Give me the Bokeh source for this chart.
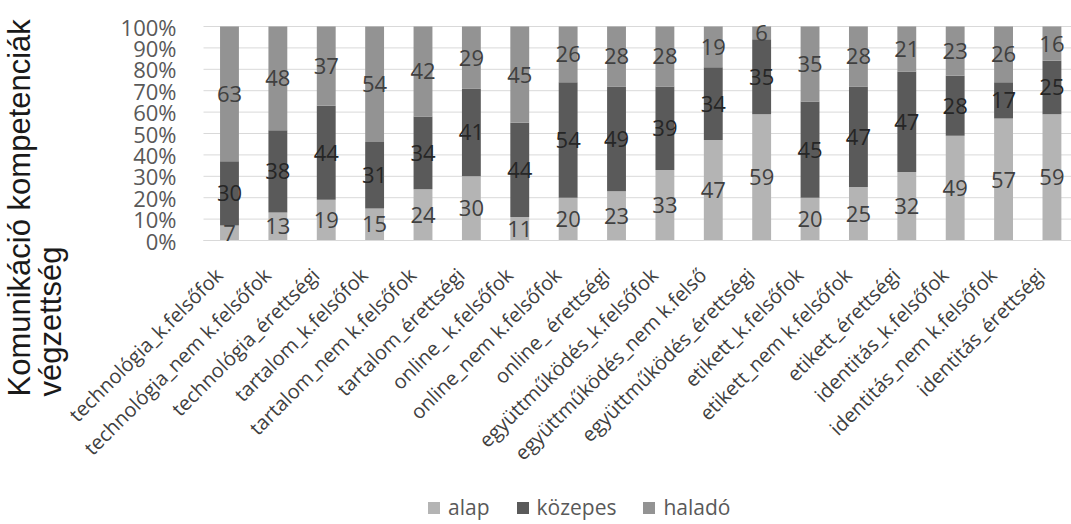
import numpy as np
from bokeh.plotting import figure
from bokeh.models import (ColumnDataSource, Range1d, FixedTicker, Label, Legend,
                          LegendItem, LabelSet)
from bokeh.embed import file_html
from bokeh.resources import INLINE
from bokeh.core.properties import value

categories = [
    "technológia_k.felsőfok", "technológia_nem k.felsőfok", "technológia_érettségi",
    "tartalom_k.felsőfok", "tartalom_nem k.felsőfok", "tartalom_érettségi",
    "online_ k.felsőfok", "online_nem k.felsőfok", "online_ érettségi",
    "együttműködés_k.felsőfok", "együttműködés_nem k.felső", "együttműködés_érettségi",
    "etikett_k.felsőfok", "etikett_nem k.felsőfok", "etikett_érettségi",
    "identitás_k.felsőfok", "identitás_nem k.felsőfok", "identitás_érettségi",
]
alap = [7, 13, 19, 15, 24, 30, 11, 20, 23, 33, 47, 59, 20, 25, 32, 49, 57, 59]
kozepes = [30, 38, 44, 31, 34, 41, 44, 54, 49, 39, 34, 35, 45, 47, 47, 28, 17, 25]
halado = [63, 48, 37, 54, 42, 29, 45, 26, 28, 28, 19, 6, 35, 28, 21, 23, 26, 16]
series_names = ["alap", "közepes", "haladó"]
series_colors = ["#b4b4b4", "#5a5a5a", "#939393"]
label_colors = ["#404040", "#262626", "#404040"]
y_ticks = [0, 10, 20, 30, 40, 50, 60, 70, 80, 90, 100]
y_tick_labels = ["0%", "10%", "20%", "30%", "40%", "50%", "60%", "70%", "80%", "90%", "100%"]
y_title_lines = ["Komunikáció kompetenciák", "végzettség"]

n = len(categories)
xs = np.arange(n)
a = np.array(alap, float)
k = np.array(kozepes, float)
h = np.array(halado, float)
tot = a + k + h
pa, pk, ph = a / tot * 100, k / tot * 100, h / tot * 100

# layout: the frame covers the whole canvas, axes are drawn at fixed locations
W, H = 1071, 524
px_x = 48.38          # pixels per category
px_y = 2.14           # pixels per percent
left_px, top_px = 203, 26
plot_x0 = -0.537
x_start = plot_x0 - left_px / px_x
x_end = x_start + W / px_x
y_end = 100 + top_px / px_y
y_start = y_end - H / px_y

src = ColumnDataSource(dict(x=xs, alap=pa, kozepes=pk, halado=ph))

p = figure(width=W, height=H, x_range=Range1d(x_start, x_end), y_range=Range1d(y_start, y_end),
           output_backend="svg", toolbar_location=None,
           min_border_left=0, min_border_top=0, min_border_right=0, min_border_bottom=0)
p.outline_line_color = None
p.background_fill_color = "white"
p.xgrid.grid_line_color = None
p.ygrid.grid_line_color = None

# horizontal gridlines at the tick values
p.segment(x0=[plot_x0] * len(y_ticks), y0=y_ticks, x1=[x_end] * len(y_ticks), y1=y_ticks,
          line_color="#d9d9d9", line_width=1)

rs = p.vbar_stack(["alap", "kozepes", "halado"], x="x", width=0.39, source=src,
                  color=series_colors, line_color=None)

# data labels at segment centres
bottoms = [np.zeros(n), pa, pa + pk]
parts = [pa, pk, ph]
raw = [alap, kozepes, halado]
for i in range(3):
    ls = ColumnDataSource(dict(x=xs, y=bottoms[i] + parts[i] / 2, t=[str(v) for v in raw[i]]))
    p.add_layout(LabelSet(x="x", y="y", text="t", source=ls, text_align="center",
                          text_baseline="middle", text_font=value("Open Sans"),
                          text_font_size="22px", text_color=label_colors[i]))

# y axis
p.yaxis.fixed_location = plot_x0
p.yaxis.bounds = (0, 100)
p.yaxis.ticker = FixedTicker(ticks=y_ticks)
p.yaxis.major_label_overrides = {t: l for t, l in zip(y_ticks, y_tick_labels)}
p.yaxis.axis_line_color = None
p.yaxis.major_tick_line_color = None
p.yaxis.minor_tick_line_color = None
p.yaxis.major_label_standoff = 21
p.yaxis.major_label_text_font = "Open Sans"
p.yaxis.major_label_text_font_size = "22px"
p.yaxis.major_label_text_color = "#595959"

# x axis
shift = 0.22
xt = [float(i) - shift for i in xs]
p.xaxis.fixed_location = 0
p.xaxis.bounds = (plot_x0, x_end)
p.xaxis.ticker = FixedTicker(ticks=xt)
p.xaxis.major_label_overrides = {t: c for t, c in zip(xt, categories)}
p.xaxis.axis_line_color = "#d9d9d9"
p.xaxis.major_tick_line_color = None
p.xaxis.minor_tick_line_color = None
p.xaxis.major_label_orientation = np.pi / 4
p.xaxis.major_label_standoff = 25
p.xaxis.major_label_text_font = "Open Sans"
p.xaxis.major_label_text_font_size = "20px"
p.xaxis.major_label_text_color = "#404040"

# y title: two rotated lines starting below the plot area
for line, bx in zip(y_title_lines, [19, 50]):
    p.add_layout(Label(x=bx, y=H - 396, x_units="screen", y_units="screen", text=line,
                       angle=np.pi / 2, text_align="left", text_baseline="alphabetic",
                       text_font="Liberation Sans", text_font_size="31px",
                       text_color="#1a1a1a"))

legend = Legend(items=[LegendItem(label=nm, renderers=[r]) for nm, r in zip(series_names, rs)],
                orientation="horizontal", location=(426, 3),
                glyph_width=15, glyph_height=15, label_standoff=7, spacing=25,
                padding=0, margin=0, border_line_color=None, background_fill_alpha=0,
                label_text_font="Open Sans", label_text_font_size="21px",
                label_text_color="#595959")
p.add_layout(legend, "center")

open("out.html", "w").write(file_html(p, INLINE))
